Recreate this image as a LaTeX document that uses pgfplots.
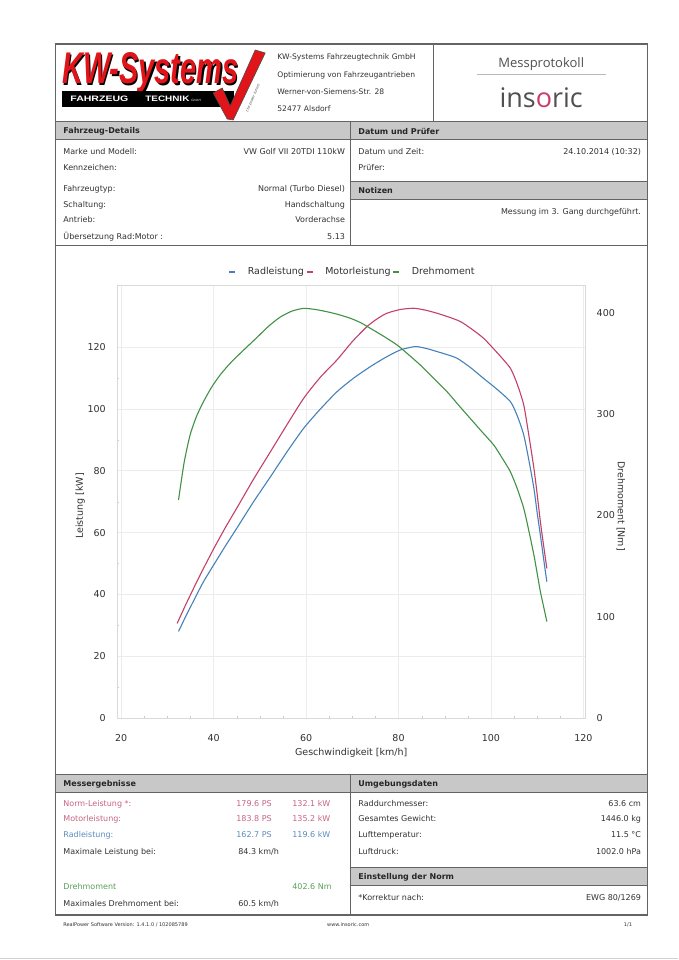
\documentclass[border=0pt]{standalone}
\usepackage{fontspec}
\setmainfont{DejaVu Sans}
\newfontfamily\lsans{Liberation Sans}
\newfontfamily\osans{Open Sans}
\usepackage{graphicx}
\usepackage{pgfplots}
\pgfplotsset{compat=1.18}

\definecolor{cblue}{RGB}{70,130,185}
\definecolor{cred}{RGB}{195,65,105}
\definecolor{cgreen}{RGB}{65,145,70}
\definecolor{barfill}{RGB}{200,200,200}
\definecolor{framec}{RGB}{100,100,100}
\definecolor{txt}{RGB}{50,50,50}
\definecolor{tpink}{RGB}{200,100,130}
\definecolor{tblue}{RGB}{90,140,190}
\definecolor{tgreen}{RGB}{90,160,90}
\definecolor{kwred}{RGB}{225,20,25}
\definecolor{insgray}{RGB}{80,80,80}
\definecolor{inspink}{RGB}{200,60,110}

\newcommand\bodyf{\fontsize{8}{9.6}\selectfont}
\newcommand\addrf{\fontsize{7.6}{9}\selectfont}
\newcommand\tickf{\fontsize{9.5}{11}\selectfont}

\begin{document}
\begin{tikzpicture}[x=1pt,y=1pt]
\fill[white] (0,0) rectangle (678,960);
\begin{scope}[yshift=960pt,yscale=-1,
  lab/.style={anchor=west,inner sep=0pt,font=\bodyf,text=txt},
  val/.style={anchor=east,inner sep=0pt,font=\bodyf,text=txt},
  bar/.style={fill=barfill,draw=framec,line width=1pt},
  bart/.style={anchor=west,inner sep=0pt,font={\bodyf\bfseries},text=black!85}]
% bars
\draw[bar] (55,122) rectangle (350,140);
\draw[bar] (350,122) rectangle (647,140);
\draw[bar] (350,182) rectangle (647,200);
\draw[bar] (55,775) rectangle (350,793);
\draw[bar] (350,775) rectangle (647,793);
\draw[bar] (350,868) rectangle (647,886);
% frame lines
\draw[framec,line width=1.2pt] (55,44) rectangle (647,915);
\draw[framec,line width=1pt] (433,44) -- (433,122);
\draw[framec,line width=1pt] (350,140) -- (350,246);
\draw[framec,line width=1pt] (55,246) -- (647,246);
\draw[framec,line width=1pt] (350,793) -- (350,915);
\draw[gray!35] (0,958) -- (678,958);
% KW logo
\node[anchor=base west,inner sep=0pt,text=black] at (63.5,85.5) {\resizebox{176pt}{31pt}{\lsans\bfseries\itshape KW-Systems}};
\node[anchor=base west,inner sep=0pt,text=kwred] at (62,84) {\resizebox{176pt}{31pt}{\lsans\bfseries\itshape KW-Systems}};
\fill[black] (62,91) rectangle (234,107);
\node[anchor=west,inner sep=0pt,text=white] at (70,99) {\resizebox{58pt}{5.5pt}{\lsans\bfseries FAHRZEUG}};
\node[anchor=west,inner sep=0pt,text=white] at (145,99) {\resizebox{44pt}{5.5pt}{\lsans\bfseries TECHNIK}};
\node[anchor=west,inner sep=0pt,text=white,font=\fontsize{3}{3}\selectfont] at (191,100) {GmbH};
\filldraw[fill=kwred,draw=black!70,line width=0.6pt] (213,93) -- (222,88) -- (230,106) -- (255,50) -- (265,53) -- (233,120) -- (227,119) -- cycle;
\node[rotate=67,font=\fontsize{3.5}{4}\selectfont\itshape,text=black!70] at (253,98) {the power tuners};
% address
\node[lab,font=\addrf] at (277,57) {KW-Systems Fahrzeugtechnik GmbH};
\node[lab,font=\addrf] at (277,75) {Optimierung von Fahrzeugantrieben};
\node[lab,font=\addrf] at (277,92) {Werner-von-Siemens-Str. 28};
\node[lab,font=\addrf] at (277,109) {52477 Alsdorf};
% insoric
\node[font=\osans\fontsize{13}{14}\selectfont,text=insgray] at (541,64) {Messprotokoll};
\draw[gray!55,line width=0.6pt] (477,74) -- (606,74);
\node[font=\osans\fontsize{27}{28}\selectfont,text=insgray,anchor=base,inner sep=0pt] at (541,108) {ins\textcolor{inspink}{o}ric};
% bar titles
\node[bart] at (63,131) {Fahrzeug-Details};
\node[bart] at (358,131) {Datum und Prüfer};
\node[bart] at (358,191) {Notizen};
\node[bart] at (63,784) {Messergebnisse};
\node[bart] at (358,784) {Umgebungsdaten};
\node[bart] at (358,877) {Einstellung der Norm};
% vehicle details
\node[lab] at (63,152) {Marke und Modell:};
\node[val] at (345,152) {VW Golf VII 20TDI 110kW};
\node[lab] at (63,168) {Kennzeichen:};
\node[lab] at (63,189) {Fahrzeugtyp:};
\node[val] at (345,189) {Normal (Turbo Diesel)};
\node[lab] at (63,205) {Schaltung:};
\node[val] at (345,205) {Handschaltung};
\node[lab] at (63,220) {Antrieb:};
\node[val] at (345,220) {Vorderachse};
\node[lab] at (63,237) {Übersetzung Rad:Motor :};
\node[val] at (345,237) {5.13};
\node[lab] at (358,152) {Datum und Zeit:};
\node[val] at (641,152) {24.10.2014 (10:32)};
\node[lab] at (358,168) {Prüfer:};
\node[val] at (641,212) {Messung im 3. Gang durchgeführt.};
% results
\node[lab,text=tpink] at (63,804) {Norm-Leistung *:};
\node[lab,text=tpink] at (236,804) {179.6 PS};
\node[lab,text=tpink] at (292,804) {132.1 kW};
\node[lab,text=tpink] at (63,819) {Motorleistung:};
\node[lab,text=tpink] at (236,819) {183.8 PS};
\node[lab,text=tpink] at (292,819) {135.2 kW};
\node[lab,text=tblue] at (63,835) {Radleistung:};
\node[lab,text=tblue] at (236,835) {162.7 PS};
\node[lab,text=tblue] at (292,835) {119.6 kW};
\node[lab] at (63,852) {Maximale Leistung bei:};
\node[lab] at (238,852) {84.3 km/h};
\node[lab,text=tgreen] at (63,887) {Drehmoment};
\node[lab,text=tgreen] at (292,887) {402.6 Nm};
\node[lab] at (63,904) {Maximales Drehmoment bei:};
\node[lab] at (238,904) {60.5 km/h};
\node[lab] at (358,804) {Raddurchmesser:};
\node[val] at (641,804) {63.6 cm};
\node[lab] at (358,819) {Gesamtes Gewicht:};
\node[val] at (641,819) {1446.0 kg};
\node[lab] at (358,835) {Lufttemperatur:};
\node[val] at (641,835) {11.5 °C};
\node[lab] at (358,852) {Luftdruck:};
\node[val] at (641,852) {1002.0 hPa};
\node[lab] at (358,898) {*Korrektur nach:};
\node[val] at (641,898) {EWG 80/1269};
% footer
\node[lab,font=\fontsize{5}{6}\selectfont] at (63,925) {RealPower Software Version: 1.4.1.0 / 102085789};
\node[inner sep=0pt,font=\fontsize{5}{6}\selectfont,text=txt] at (348,925) {www.insoric.com};
\node[val,font=\fontsize{5}{6}\selectfont] at (632,925) {1/1};
\end{scope}

\begin{axis}[
  at={(117pt,242pt)}, anchor=south west,
  scale only axis, width=468pt, height=432.6pt,
  xmin=19.13, xmax=120.4, ymin=0, ymax=140,
  xtick={20,40,...,120}, ytick={0,20,...,120},
  minor x tick num=3, minor y tick num=1,
  tick pos=left,
  grid=major, major grid style={gray!15,line width=0.6pt},
  axis line style={gray!30,line width=0.6pt},
  major tick length=0pt, minor tick length=2pt, minor tick style={gray!40},
  /pgf/number format/assume math mode=true,
  ticklabel style={font=\tickf,text=txt},
  yticklabel style={xshift=-8pt},
  xticklabel style={yshift=-13pt},
  xlabel={Geschwindigkeit [km/h]}, ylabel={Leistung [kW]},
  xlabel style={at={(axis description cs:0.5,-0.081)},anchor=center,font=\tickf,text=txt},
  ylabel style={at={(axis description cs:-0.079,0.49)},anchor=center,font=\tickf,text=txt},
  legend style={at={(axis description cs:0.503,1.031)},anchor=center,draw=none,fill=none,
    font=\tickf,text=txt,legend columns=3,inner sep=0pt,
    /tikz/every odd column/.append style={column sep=10pt}},
  legend image code/.code={\draw[#1,line width=1.3pt] (0pt,0pt) -- (6pt,0pt);},
]
\addplot[cblue,line width=1.1pt,smooth,tension=0.4] table {
32.4 28.0
34.0 33.0
35.9 38.6
37.8 44.1
40.2 50.0
42.6 55.8
45.0 61.4
48.6 69.9
52.3 78.1
55.9 86.2
59.5 93.8
63.1 100.0
66.7 105.6
70.3 110.0
73.9 113.7
77.2 116.7
80.4 119.1
83.6 120.2
86.0 119.6
88.3 118.6
90.5 117.6
92.7 116.4
95.5 113.5
98.4 109.9
101.3 106.4
104.2 102.4
105.7 97.8
107.1 91.6
108.2 83.5
109.3 74.3
110.0 66.5
110.7 59.2
111.4 51.5
112.1 44.1
};
\addlegendentry{Radleistung}
\addplot[cred,line width=1.1pt,smooth,tension=0.4] table {
32.1 30.6
34.0 36.8
35.9 42.7
37.8 48.4
40.2 55.3
42.6 61.8
45.0 67.9
48.6 77.2
52.3 86.2
55.9 95.0
59.5 103.5
63.1 110.3
66.7 115.9
70.0 121.8
73.2 126.7
75.4 129.2
77.5 131.0
80.4 132.2
83.3 132.6
85.8 132.0
88.3 131.0
90.8 129.8
93.4 128.3
95.9 125.8
98.4 122.9
101.3 118.3
104.2 113.2
105.7 108.0
107.1 101.3
108.2 91.5
109.3 80.8
110.0 72.5
110.7 63.5
111.4 55.8
112.1 48.4
};
\addlegendentry{Motorleistung}
\addlegendimage{cgreen,line width=1.1pt}
\addlegendentry{Drehmoment}
\end{axis}

\begin{axis}[
  at={(117pt,242pt)}, anchor=south west,
  scale only axis, width=468pt, height=432.6pt,
  xmin=19.13, xmax=120.4, ymin=0, ymax=427.3,
  axis y line*=right, axis x line=none,
  ytick={0,100,...,400},
  axis line style={gray!30,line width=0.6pt},
  major tick length=0pt,
  /pgf/number format/assume math mode=true,
  ticklabel style={font=\tickf,text=txt},
  yticklabel style={xshift=8pt},
  ylabel={Drehmoment [Nm]},
  ylabel style={at={(axis description cs:1.076,0.49)},anchor=center,rotate=180,font=\tickf,text=txt},
]
\addplot[cgreen,line width=1.1pt,smooth,tension=0.4] table {
32.4 215.3
33.6 252
34.9 279.5
36.3 298
37.8 312.5
39.6 327
41.4 338.8
43.2 348.5
45.0 356.9
47.2 366.5
49.4 376
51.9 387
54.4 396
57.0 402
59.5 404.6
62.0 403.5
64.5 401.3
67.0 398.5
69.6 394.8
71.8 390.5
73.9 384.9
76.8 377
79.7 368.4
82.2 358.8
84.7 348.7
87.6 335.5
90.5 322.3
93.0 309
95.5 296
98.0 283
100.6 269.7
102.4 257
104.2 243.3
105.7 226.5
107.1 207.1
108.2 185
109.3 161
110.0 143
110.7 124.8
111.4 110
112.1 95.2
};
\end{axis}
\end{tikzpicture}
\end{document}
